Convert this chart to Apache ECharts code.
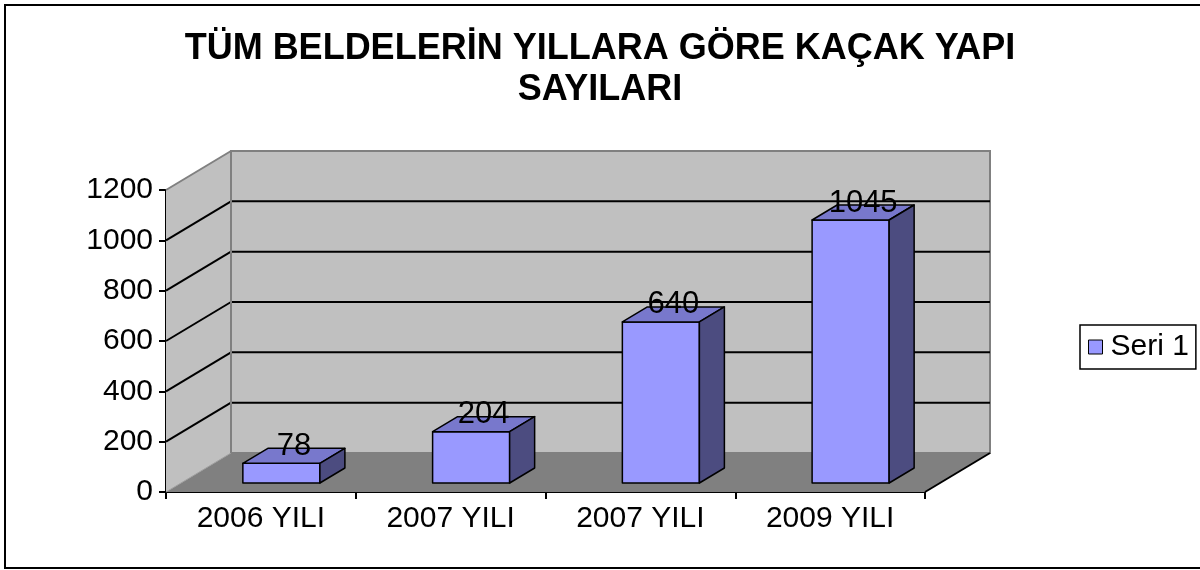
<!DOCTYPE html>
<html>
<head>
<meta charset="utf-8">
<script src="https://cdn.jsdelivr.net/npm/echarts@6/dist/echarts.min.js"></script>
<style>
  html, body { margin: 0; padding: 0; background: #fff; }
  #chart { width: 1200px; height: 570px; }
</style>
</head>
<body>
<div id="chart"></div>
<script>
  // data
  var categories = ['2006 YILI', '2007 YILI', '2007 YILI', '2009 YILI']
  var values = [78, 204, 640, 1045]
  var yTicks = [0, 200, 400, 600, 800, 1000, 1200]
  var seriesName = 'Seri 1'

  var FONT = '"Liberation Sans", Arial, sans-serif'
  // 3d depth of the walls and of the bars (px)
  var DX = 65, DY = 39
  var BDX = 25, BDY = 15

  var chart = echarts.init(document.getElementById('chart'))

  // back wall, side wall and floor
  function renderWalls(params, api) {
    var band = api.size([1, 0])[0]
    var x0 = api.coord([0, 0])[0] - band / 2
    var xR = api.coord([categories.length - 1, 0])[0] + band / 2
    var y0 = api.coord([0, 0])[1]
    var yTop = api.coord([0, yTicks[yTicks.length - 1]])[1]
    var children = []
    // side wall
    children.push({
      type: 'polygon',
      shape: { points: [[x0, y0], [x0, yTop], [x0 + DX, yTop - DY], [x0 + DX, y0 - DY]] },
      style: { fill: '#c0c0c0', stroke: null }
    })
    // back wall
    children.push({
      type: 'rect',
      shape: { x: x0 + DX, y: yTop - DY, width: xR - x0, height: y0 - yTop },
      style: { fill: '#c0c0c0', stroke: '#808080', lineWidth: 2 }
    })
    // floor
    children.push({
      type: 'polygon',
      shape: { points: [[x0, y0], [x0 + DX, y0 - DY], [xR + DX, y0 - DY], [xR, y0]] },
      style: { fill: '#808080', stroke: null }
    })
    // grid lines
    yTicks.forEach(function (t, i) {
      var y = api.coord([0, t])[1]
      var last = i === yTicks.length - 1
      if (i === 0) {
        children.push({
          type: 'line',
          shape: { x1: x0, y1: y, x2: x0 + DX, y2: y - DY },
          style: { stroke: '#a0a0a0', lineWidth: 1 }
        })
        return
      }
      children.push({
        type: 'line',
        shape: { x1: x0, y1: y, x2: x0 + DX, y2: y - DY },
        style: { stroke: last ? '#808080' : '#000', lineWidth: 2 }
      })
      if (!last) {
        children.push({
          type: 'line',
          shape: { x1: x0 + DX, y1: y - DY, x2: xR + DX, y2: y - DY },
          style: { stroke: '#000', lineWidth: 2 }
        })
      }
    })
    // left edge of back wall
    children.push({
      type: 'line',
      shape: { x1: x0 + DX, y1: yTop - DY, x2: x0 + DX, y2: y0 - DY },
      style: { stroke: '#808080', lineWidth: 2 }
    })
    // floor right edge
    children.push({
      type: 'line',
      shape: { x1: xR, y1: y0, x2: xR + DX, y2: y0 - DY },
      style: { stroke: '#000', lineWidth: 2 }
    })
    return { type: 'group', children: children }
  }

  // 3d bars
  function renderBar(params, api) {
    var i = api.value(0)
    var v = api.value(1)
    var band = api.size([1, 0])[0]
    var base = api.coord([i, 0])
    var top = api.coord([i, v])
    var w = band * 0.406
    var L = base[0] + 20.5 - w / 2
    var R = L + w
    var yb = base[1] - 9
    var yt = top[1] - 9
    var stroke = { stroke: '#000', lineWidth: 1.5, lineJoin: 'round' }
    return {
      type: 'group',
      children: [
        {
          type: 'rect',
          shape: { x: L, y: yt, width: w, height: yb - yt },
          style: Object.assign({ fill: '#9999ff' }, stroke)
        },
        {
          type: 'polygon',
          shape: { points: [[L, yt], [R, yt], [R + BDX, yt - BDY], [L + BDX, yt - BDY]] },
          style: Object.assign({ fill: '#7878cc' }, stroke)
        },
        {
          type: 'polygon',
          shape: { points: [[R, yt], [R + BDX, yt - BDY], [R + BDX, yb - BDY], [R, yb]] },
          style: Object.assign({ fill: '#4c4c80' }, stroke)
        },
        {
          type: 'text',
          style: {
            x: (L + R) / 2 + BDX / 2,
            y: yt - BDY - 2,
            text: String(v),
            fill: '#000',
            font: '31px ' + FONT,
            align: 'center',
            verticalAlign: 'middle'
          }
        }
      ]
    }
  }

  var option = {
    backgroundColor: '#fff',
    animation: false,
    title: {
      text: 'TÜM BELDELERİN YILLARA GÖRE KAÇAK YAPI\nSAYILARI',
      left: 'center',
      top: 29,
      padding: [0, 0, 0, 12],
      textStyle: {
        fontFamily: FONT,
        fontSize: 36,
        fontWeight: 'bold',
        color: '#000',
        lineHeight: 41
      }
    },
    legend: {
      left: 1080,
      top: 325,
      orient: 'vertical',
      data: [{
        name: seriesName,
        icon: 'rect',
        itemStyle: { color: '#9999ff', borderColor: '#000', borderWidth: 1 }
      }],
      itemWidth: 14,
      itemHeight: 14,
      itemGap: 0,
      padding: [7, 7, 7, 8],
      borderColor: '#000',
      borderWidth: 1.5,
      borderRadius: 0,
      textStyle: { fontFamily: FONT, fontSize: 30, color: '#000', padding: [0, 0, 0, 3] }
    },
    graphic: [{
      type: 'rect',
      shape: { x: 5, y: 5, width: 1210, height: 563 },
      style: { fill: null, stroke: '#000', lineWidth: 2 },
      silent: true
    }],
    grid: { left: 166, right: 275, top: 190, bottom: 78 },
    xAxis: {
      type: 'category',
      data: categories,
      axisLine: { lineStyle: { color: '#000', width: 2 } },
      axisTick: { show: true, length: 7, lineStyle: { color: '#000', width: 2 } },
      axisLabel: { color: '#000', fontFamily: FONT, fontSize: 30, margin: 12, interval: 0 },
      splitLine: { show: false }
    },
    yAxis: {
      type: 'value',
      min: 0,
      max: 1200,
      interval: 200,
      axisLine: { show: true, lineStyle: { color: '#000', width: 2 } },
      axisTick: { show: true, length: 7, lineStyle: { color: '#000', width: 2 } },
      axisLabel: {
        color: '#000', fontFamily: FONT, fontSize: 30, margin: 13,
        formatter: function (v) { return String(v) }
      },
      splitLine: { show: false }
    },
    series: [
      {
        type: 'custom',
        name: 'walls',
        z: 1,
        silent: true,
        renderItem: renderWalls,
        encode: { x: 0, y: 1 },
        data: [[0, 0]]
      },
      {
        type: 'custom',
        name: seriesName,
        z: 3,
        renderItem: renderBar,
        encode: { x: 0, y: 1 },
        data: values.map(function (v, i) { return [i, v] })
      }
    ]
  }
  chart.setOption(option)
</script>
</body>
</html>
